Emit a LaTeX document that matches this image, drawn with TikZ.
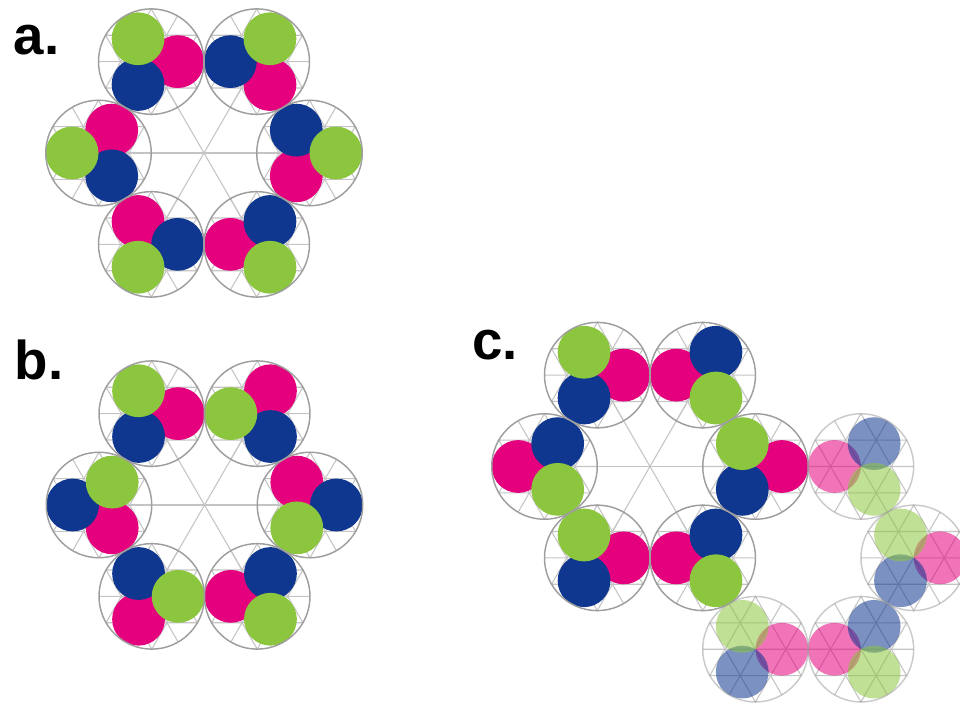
\documentclass[tikz,border=0pt]{standalone}
\usepackage{fontspec}
\setmainfont{Liberation Sans}
\definecolor{leaf}{HTML}{8CC63E}
\definecolor{rose}{HTML}{E5007D}
\definecolor{deep}{HTML}{0F3790}
\definecolor{rimgrey}{HTML}{9E9E9E}
\definecolor{gridgrey}{HTML}{C4C4C4}

\begin{document}
\begin{tikzpicture}[x=0.75pt, y=0.75pt,
    rim/.style={draw=rimgrey, line width=1.1pt},
    grid/.style={draw=gridgrey, line width=0.8pt},
    tag/.style={anchor=base west, inner sep=0pt, font=\fontsize{41}{46}\selectfont\bfseries}]
  \useasboundingbox (0,0) rectangle (960,704);
  % spokes through the centres of the three full rings
  \foreach \ox/\oy in {204/551, 204.5/199, 650/237.5}
    \foreach \t in {0,60,120}
      \draw[grid] ([shift={(\t:105.5)}]\ox,\oy) -- ([shift={(\t+180:105.5)}]\ox,\oy);
  % cells: ring centre, opacity, then position/green angle
  \foreach \ox/\oy/\op/\cells in {204/551/1/{0/0,60/60,120/120,180/180,240/240,300/300},
      204.5/199/1/{0/240,60/180,120/120,180/60,240/0,300/300},
      650/237.5/1/{0/120,60/300,120/120,180/300,240/120,300/300},
      808.2/146.15/0.55/{0/120,60/300,240/120,300/300}} {
    \foreach \p/\g in \cells {
      \begin{scope}[shift={(\ox,\oy)}, shift={(\p:105.5)}]
        \draw[grid] (90:52.75) -- (210:52.75) -- (330:52.75) -- cycle;
        \draw[grid] (270:52.75) -- (30:52.75) -- (150:52.75) -- cycle;
        \draw[grid] (0:52.75) -- (180:52.75) (60:52.75) -- (240:52.75) (120:52.75) -- (300:52.75);
        \fill[rose, opacity=\op] (\g+240:26.4) circle (26.4);
        \fill[deep, opacity=\op] (\g+120:26.4) circle (26.4);
        \fill[leaf, opacity=\op] (\g:26.4) circle (26.4);
        \draw[rim, draw opacity=\op] (0,0) circle (52.75);
      \end{scope}
    }
  }
  \node[tag] (taga) at (13.5,649) {a.};
  \node[tag] (tagb) at (14.5,324) {b.};
  \node[tag] (tagc) at (472,344) {c.};
\end{tikzpicture}
\end{document}
